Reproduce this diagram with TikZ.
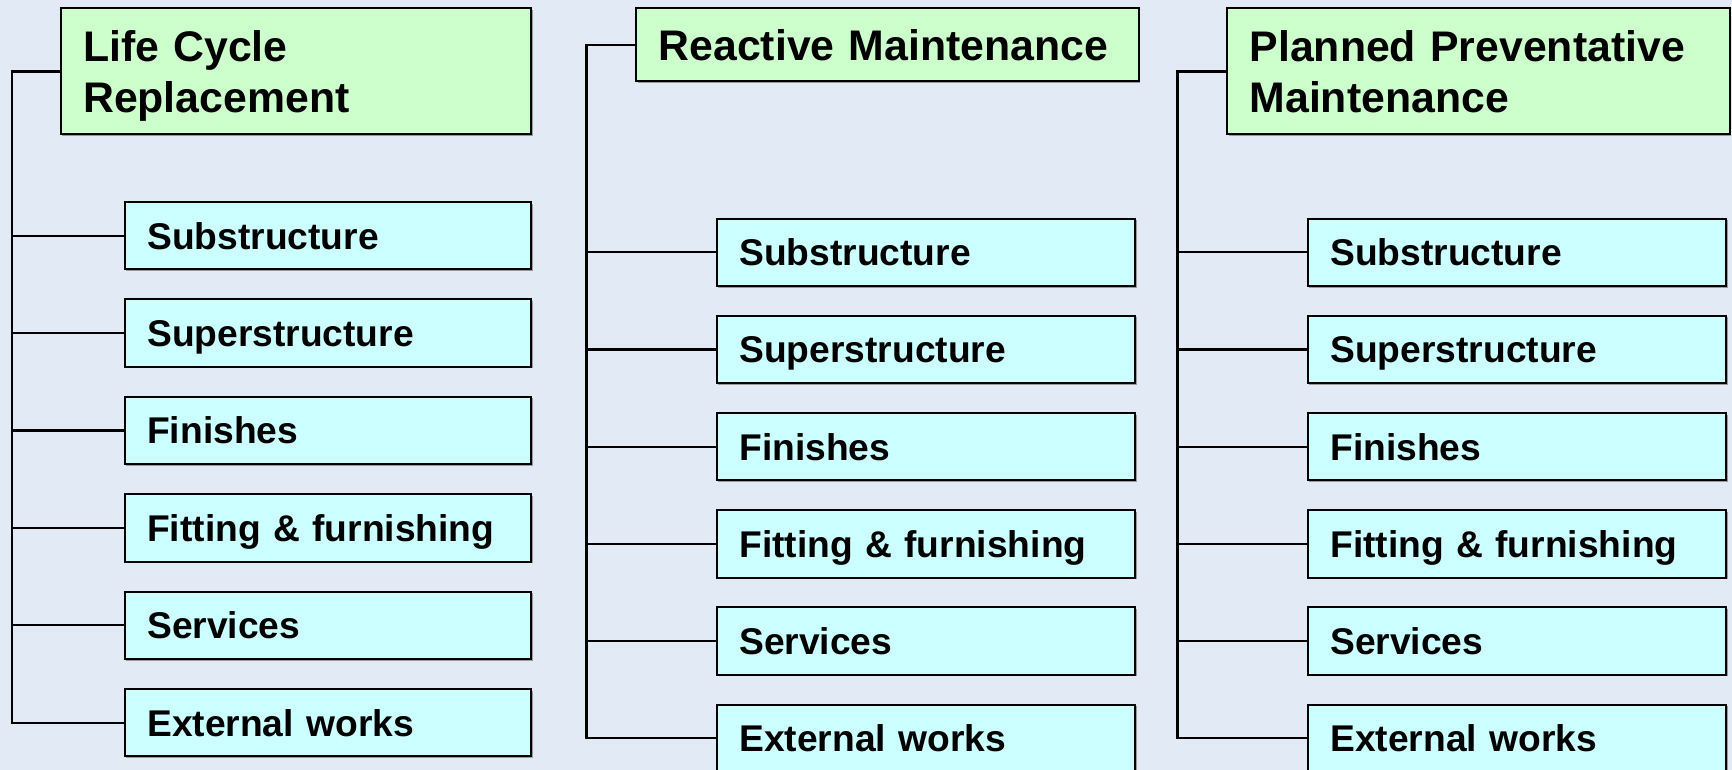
\documentclass[tikz,border=0pt]{standalone}
\usepackage{fontspec}
\setmainfont{Liberation Sans}
\usetikzlibrary{shadows}
\definecolor{bg}{RGB}{226,234,245}
\definecolor{headfill}{RGB}{204,255,204}
\definecolor{itemfill}{RGB}{204,255,255}
\newcommand{\nodepth}[1]{\raisebox{0pt}[\height][0pt]{#1}}
\tikzset{
  box/.style={draw=black, line width=2pt, anchor=north west, inner xsep=22.5pt,
    inner ysep=0pt, align=left,
    drop shadow={shadow xshift=1.6pt, shadow yshift=-1.6pt, fill=black!40, opacity=1}},
  headbox/.style={box, fill=headfill, font=\bfseries\fontsize{42.8}{50.8}\selectfont},
  itembox/.style={box, fill=itemfill, font=\bfseries\fontsize{37.2}{44}\selectfont,
    text depth=0pt, text width=#1, minimum height=67.4pt},
  link/.style={draw=black, line width=2.2pt},
}
\begin{document}
\begin{tikzpicture}[x=1pt,y=-1pt]
  \fill[bg] (0,0) rectangle (1732,770);
  \useasboundingbox (0,0) rectangle (1732,770);

  % column headings
  \node[headbox, text width=425.4pt, minimum height=126pt] (h1) at (59.6,7.5) {Life Cycle\\\nodepth{Replacement}};
  \node[headbox, text width=457.6pt, minimum height=73pt] (h2) at (635.1,7.5) {Reactive Maintenance};
  \node[headbox, text width=457.6pt, minimum height=126pt] (h3) at (1226.1,7.5) {Planned Preventative\\Maintenance};

  % element boxes under each heading
  \foreach \lab [count=\i] in {Substructure, Superstructure, Finishes, Fitting \& furnishing, Services, External works}{
    \node[itembox=361.3pt] (a\i) at (123.7,{201+97.4*(\i-1)}) {\lab};
    \node[itembox=373.4pt] (b\i) at (715.8,{217.6+97.2*(\i-1)}) {\lab};
    \node[itembox=373.5pt] (c\i) at (1306.8,{217.6+97.2*(\i-1)}) {\lab};
  }

  % spine of each tree
  \coordinate (va) at (12,0);
  \coordinate (vb) at (586.5,0);
  \coordinate (vc) at (1177.5,0);
  \draw[link] (h1.west) -- (h1.west -| va) |- (a6.west);
  \draw[link] (h2.west) -- (h2.west -| vb) |- (b6.west);
  \draw[link] (h3.west) -- (h3.west -| vc) |- (c6.west);
  \foreach \i in {1,...,5}{
    \draw[link] (a\i.west) -- (a\i.west -| va);
    \draw[link] (b\i.west) -- (b\i.west -| vb);
    \draw[link] (c\i.west) -- (c\i.west -| vc);
  }
\end{tikzpicture}
\end{document}
